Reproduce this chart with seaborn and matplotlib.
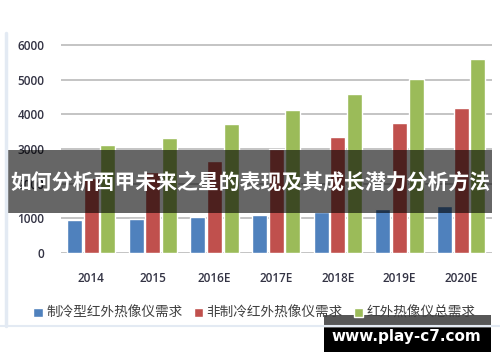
import matplotlib
matplotlib.use("Agg")
import matplotlib.pyplot as plt
import seaborn as sns
import pandas as pd
from matplotlib.patches import Rectangle
from matplotlib.lines import Line2D

years = ["2014", "2015", "2016E", "2017E", "2018E", "2019E", "2020E"]
series_names = ["制冷型红外热像仪需求", "非制冷红外热像仪需求", "红外热像仪总需求"]
cooled = [950, 980, 1050, 1100, 1190, 1260, 1350]
uncooled = [2160, 2330, 2650, 3000, 3350, 3740, 4200]
total = [3110, 3330, 3720, 4120, 4580, 5010, 5600]
yticks = [0, 1000, 2000, 3000, 4000, 5000, 6000]
banner_text = "如何分析西甲未来之星的表现及其成长潜力分析方法"
watermark = "www.play-c7.com"

colors = ["#4F81BD", "#C0504D", "#9BBB59"]

rows = []
for name, vals in zip(series_names, [cooled, uncooled, total]):
    for y, v in zip(years, vals):
        rows.append({"year": y, "series": name, "value": v})
df = pd.DataFrame(rows)

sns.set_theme(style="white")
plt.rcParams["font.family"] = ["Noto Sans CJK SC", "DejaVu Sans"]

fig = plt.figure(figsize=(5, 3.62), dpi=100)
fig.patch.set_facecolor("white")
ax = fig.add_axes([0.122, 0.301, 0.862, 0.579])

sns.barplot(data=df, x="year", y="value", hue="series", palette=colors,
            order=years, hue_order=series_names, width=0.81, gap=0.1,
            saturation=1, ax=ax, legend=True, errorbar=None)

ax.set_xlim(-0.49, 6.5)
ax.set_ylim(0, 6050)
ax.set_yticks(yticks)
ax.set_yticklabels([str(t) for t in yticks])
ax.set_xlabel("")
ax.set_ylabel("")
ax.yaxis.grid(True, color="#C4C4C4", linewidth=1.4)
ax.set_axisbelow(True)
for s in ax.spines.values():
    s.set_visible(False)
ax.tick_params(axis="both", length=0, colors="#3A3A3A")
ax.tick_params(axis="y", pad=12)
ax.tick_params(axis="x", pad=14)
for lab in ax.get_xticklabels() + ax.get_yticklabels():
    lab.set_fontsize(8.5)
    lab.set_fontweight("semibold")
    lab.set_family(["Open Sans", "DejaVu Sans"])
    lab.set_color("#333344")

handles, labels = ax.get_legend_handles_labels()
ax.get_legend().remove()
fig.legend(handles, labels, loc="center", bbox_to_anchor=(0.509, 0.135), ncol=3,
           frameon=False, fontsize=9.8, handlelength=0.7, handleheight=0.7,
           handletextpad=0.25, columnspacing=0.8,
           labelcolor="#404040")

# chart frame lines
fig.add_artist(Line2D([0.012, 0.012], [1 - 33 / 362, 1 - 326 / 362], transform=fig.transFigure,
                      color="#E3EAF3", linewidth=2.5))
fig.add_artist(Line2D([0.0, 1.0], [1 - 326 / 362, 1 - 326 / 362], transform=fig.transFigure,
                      color="#E3EAF3", linewidth=1.5))

# banner overlay
fig.add_artist(Rectangle((8 / 500, 1 - 213 / 362), 484 / 500, 63 / 362, transform=fig.transFigure,
                         facecolor="black", alpha=0.6, edgecolor="none"))
fig.text(0.5, 1 - 182 / 362, banner_text, ha="center", va="center", color="white",
         fontsize=15.0, fontweight="bold", family=["Noto Sans CJK SC", "DejaVu Sans"])

# watermark
fig.add_artist(Rectangle((324 / 500, 1 - 328 / 362), 167 / 500, 13 / 362, transform=fig.transFigure,
                         facecolor="#575757", edgecolor="none"))
fig.add_artist(Rectangle((324 / 500, 1 - 352 / 362), 167 / 500, 24 / 362, transform=fig.transFigure,
                         facecolor="black", edgecolor="none"))
fig.text(406 / 500, 1 - 337 / 362, watermark, ha="center", va="center", color="white",
         fontsize=11, fontweight="bold", family=["DejaVu Sans"])

fig.savefig("out.png", dpi=100, facecolor="white")
